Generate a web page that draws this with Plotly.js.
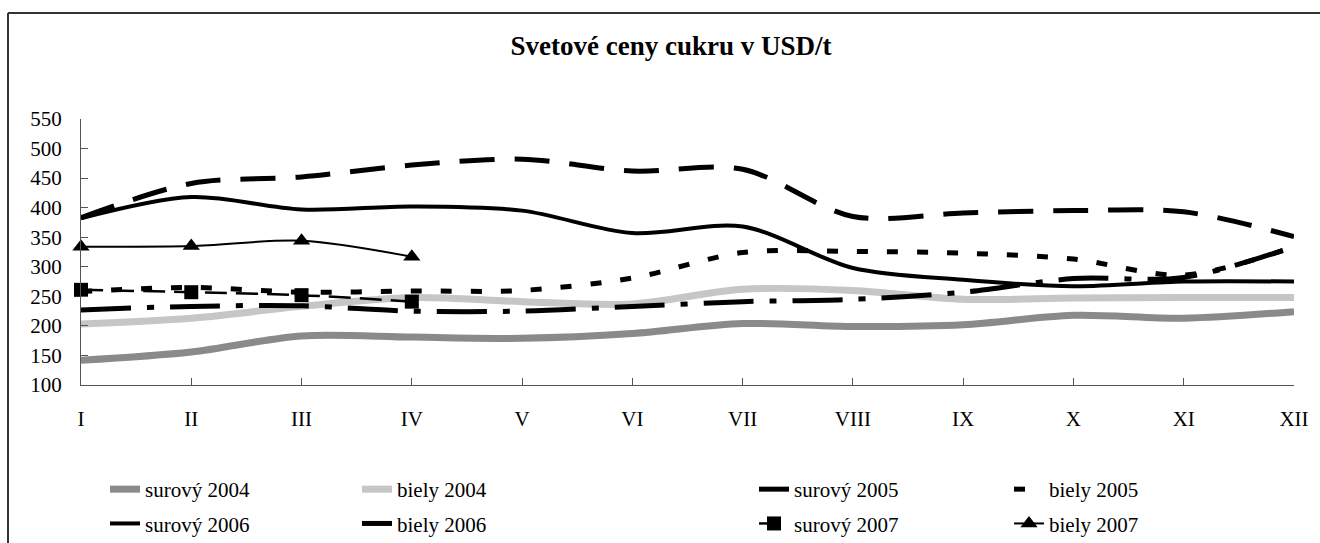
<!DOCTYPE html>
<html>
<head>
<meta charset="utf-8">
<script src="https://cdn.plot.ly/plotly-3.0.1.min.js"></script>
<style>html,body{margin:0;padding:0;background:#fff;}#chart{width:1320px;height:543px;}</style>
</head>
<body>
<div id="chart"></div>
<script>
const months = ["I","II","III","IV","V","VI","VII","VIII","IX","X","XI","XII"];
const months2007 = ["I","II","III","IV"];
const surovy2004 = [142, 156, 183, 181, 179, 187, 204, 199, 202, 218, 213, 224];
const biely2004  = [203, 213, 233, 248, 241, 237, 262, 260, 245, 247, 248, 248];
const surovy2005 = [227, 233, 234, 225, 225, 233, 241, 245, 257, 280, 282, 334];
const biely2005  = [258, 265, 257, 259, 260, 281, 324, 326, 323, 313, 286, 334];
const surovy2006 = [382, 418, 397, 402, 395, 357, 368, 298, 278, 267, 275, 275];
const biely2006  = [383, 441, 452, 472, 482, 462, 465, 385, 391, 395, 393, 351];
const surovy2007 = [261, 257, 252, 241];
const biely2007  = [334, 335, 344, 317];

const FONT = "Liberation Serif, Times New Roman, serif";

function tr(name, x, y, line, legend, extra) {
  return Object.assign({
    type: "scatter", mode: "lines", name: name, x: x, y: y,
    line: Object.assign({shape: "spline", smoothing: 0.9}, line),
    legend: legend, legendgroup: name, cliponaxis: false, hoverinfo: "x+y+name"
  }, extra || {});
}

const data = [
  tr("surový 2004", months, surovy2004, {color: "#8a8a8a", width: 7}, "legend"),
  tr("biely 2004", months, biely2004, {color: "#c6c6c6", width: 7}, "legend2"),
  tr("surový 2005", months, surovy2005, {color: "#000", width: 5, dash: "50px,16px,7px,16px"}, "legend3"),
  tr("biely 2005", months, biely2005, {color: "#000", width: 5, dash: "11px,19px"}, "legend4"),
  tr("surový 2006", months, surovy2006, {color: "#000", width: 4}, "legend"),
  tr("biely 2006", months, biely2006, {color: "#000", width: 5, dash: "35px,20px"}, "legend2"),
  tr("surový 2007", months2007, surovy2007, {color: "#000", width: 2.5, dash: "22px,9px"}, "legend3",
     {mode: "lines+markers", marker: {symbol: "square", size: 14, color: "#000"}}),
  tr("biely 2007", months2007, biely2007, {color: "#000", width: 2}, "legend4",
     {mode: "lines+markers", marker: {symbol: "triangle-up", size: 15, color: "#000"}})
];

const L = 81, R = 26, T = 119, B = 158, W = 1320, H = 543;
const pw = W - L - R, ph = H - T - B;
const px2x = p => (p - L) / pw;
const px2y = p => (H - B - p) / ph;

function leg(textStart) {
  return {
    orientation: "v", x: px2x(textStart - 41), xanchor: "left",
    y: px2y(469), yanchor: "top", traceorder: "grouped", tracegroupgap: 4,
    font: {family: FONT, size: 21, color: "#000"}, bgcolor: "rgba(0,0,0,0)", borderwidth: 0
  };
}

const borderLine = {color: "#333", width: 2};

const layout = {
  width: W, height: H,
  margin: {l: L, r: R, t: T, b: B, autoexpand: false},
  paper_bgcolor: "#fff", plot_bgcolor: "#fff",
  font: {family: FONT, size: 21, color: "#000"},
  title: {text: "<b>Svetové ceny cukru v USD/t</b>", font: {family: FONT, size: 27, color: "#000"},
          x: 671 / W, xanchor: "center", xref: "container", y: 1 - 46 / H, yanchor: "middle", yref: "container"},
  xaxis: {type: "category", range: [0, 11], showgrid: false, zeroline: false, showline: true,
          linecolor: "#555", linewidth: 1, ticks: "inside", ticklen: 7, tickcolor: "#555",
          tickfont: {family: FONT, size: 21, color: "#000"}, ticklabelstandoff: 15, fixedrange: true},
  yaxis: {range: [100, 550], dtick: 50, showgrid: false, zeroline: false, showline: true,
          linecolor: "#555", linewidth: 1, ticks: "inside", ticklen: 7, tickcolor: "#555",
          tickfont: {family: FONT, size: 21, color: "#000"}, ticklabelstandoff: 14, fixedrange: true},
  showlegend: true,
  legend: leg(146), legend2: leg(398), legend3: leg(795), legend4: leg(1050),
  shapes: [
    {type: "line", xref: "paper", yref: "paper", x0: px2x(8), x1: px2x(8), y0: px2y(560), y1: px2y(13), line: borderLine, layer: "below"},
    {type: "line", xref: "paper", yref: "paper", x0: px2x(8), x1: px2x(1340), y0: px2y(13), y1: px2y(13), line: borderLine, layer: "below"}
  ]
};

Plotly.newPlot("chart", data, layout, {staticPlot: true, displayModeBar: false});
</script>
</body>
</html>
